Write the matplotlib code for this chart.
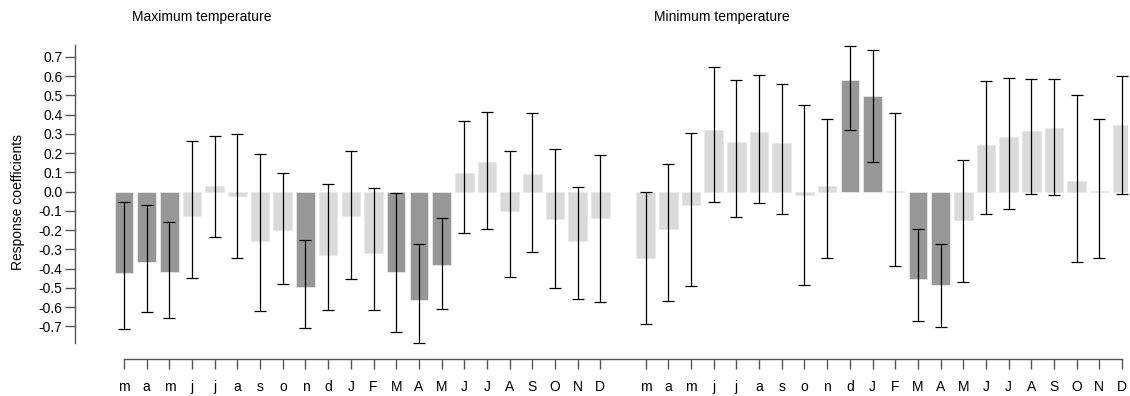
import matplotlib
matplotlib.use("Agg")
import matplotlib.pyplot as plt
import numpy as np

plt.rcParams['font.family'] = ['Liberation Sans', 'DejaVu Sans']

months = ["m", "a", "m", "j", "j", "a", "s", "o", "n", "d", "J",
          "F", "M", "A", "M", "J", "J", "A", "S", "O", "N", "D"]

# maximum temperature
tmax_coef = [-0.421, -0.364, -0.419, -0.127, 0.028, -0.021, -0.256, -0.198, -0.494, -0.328, -0.127,
             -0.317, -0.416, -0.565, -0.383, 0.099, 0.154, -0.099, 0.090, -0.142, -0.256, -0.135]
tmax_hi = [-0.055, -0.071, -0.158, 0.263, 0.291, 0.302, 0.194, 0.097, -0.250, 0.038, 0.213,
           0.021, -0.005, -0.270, -0.135, 0.366, 0.412, 0.213, 0.407, 0.224, 0.026, 0.191]
tmax_lo = [-0.716, -0.627, -0.655, -0.451, -0.237, -0.343, -0.622, -0.478, -0.707, -0.617, -0.456,
           -0.614, -0.730, -0.785, -0.608, -0.213, -0.196, -0.442, -0.315, -0.501, -0.558, -0.575]
tmax_sig = [1, 1, 1, 0, 0, 0, 0, 0, 1, 0, 0,
            0, 1, 1, 1, 0, 0, 0, 0, 0, 0, 0]

# minimum temperature
tmin_coef = [-0.345, -0.192, -0.071, 0.322, 0.258, 0.308, 0.253, -0.016, 0.029, 0.582, 0.499,
             0.005, -0.452, -0.485, -0.146, 0.243, 0.286, 0.317, 0.331, 0.054, 0.005, 0.345]
tmin_hi = [0.000, 0.144, 0.307, 0.646, 0.581, 0.608, 0.558, 0.451, 0.376, 0.757, 0.735,
           0.407, -0.196, -0.270, 0.166, 0.575, 0.589, 0.584, 0.584, 0.501, 0.376, 0.600]
tmin_lo = [-0.688, -0.567, -0.492, -0.052, -0.130, -0.061, -0.116, -0.484, -0.343, 0.321, 0.153,
           -0.385, -0.674, -0.702, -0.470, -0.116, -0.088, -0.014, -0.019, -0.367, -0.343, -0.014]
tmin_sig = [0, 0, 0, 0, 0, 0, 0, 0, 0, 1, 1,
            0, 1, 1, 0, 0, 0, 0, 0, 0, 0, 0]

dark = "#979797"
light = "#dadada"

W, H = 1130, 396
fig = plt.figure(figsize=(W / 100, H / 100), dpi=100)
# axes box in pixels: left 75, right 1128, top 45, bottom 359
ax = fig.add_axes([75 / W, 1 - 359 / H, (1128 - 75) / W, (359 - 45) / H])

n = len(months)
x1 = np.arange(n)
x2 = np.arange(n) + n + 1

for xs, coef, hi, lo, sig in [(x1, tmax_coef, tmax_hi, tmax_lo, tmax_sig),
                              (x2, tmin_coef, tmin_hi, tmin_lo, tmin_sig)]:
    cols = [dark if s else light for s in sig]
    ax.bar(xs, coef, width=0.82, color=cols, edgecolor="#e8e8e8", linewidth=0.6, zorder=1)
    coef = np.array(coef)
    yerr = [coef - np.array(lo), np.array(hi) - coef]
    ax.errorbar(xs, coef, yerr=yerr, fmt="none", ecolor="black", elinewidth=0.9,
                capsize=4.6, capthick=0.9, zorder=2)

px = 22.68
ax.set_xlim(-(124 - 75) / px, x2[-1] + (1128 - 1122) / px)
ax.set_ylim(-0.8696, 0.762)

ax.spines['top'].set_visible(False)
ax.spines['right'].set_visible(False)
ax.spines['left'].set_bounds(-0.785, 0.76)
ax.spines['bottom'].set_bounds(0, x2[-1])
for s in ['left', 'bottom']:
    ax.spines[s].set_color("#555555")
    ax.spines[s].set_linewidth(1.0)

yt = np.round(np.arange(-0.7, 0.71, 0.1), 1)
ax.set_yticks(yt)
ax.set_yticklabels([f"{v:.1f}".replace("-0.0", "0.0") for v in yt], fontsize=10)
ax.set_xticks(np.concatenate([x1, x2]))
ax.set_xticklabels(months + months, fontsize=10)
ax.tick_params(axis='both', length=7, width=1.0, color="#555555")
ax.tick_params(axis='x', pad=8)
ax.tick_params(axis='y', pad=2)

ax.set_ylabel("Response coefficients", fontsize=10, labelpad=10)

fig.text(202 / W, 1 - 17 / H, "Maximum temperature", ha="center", va="center", fontsize=10)
fig.text(722 / W, 1 - 17 / H, "Minimum temperature", ha="center", va="center", fontsize=10)

fig.savefig("out.png", dpi=100)
